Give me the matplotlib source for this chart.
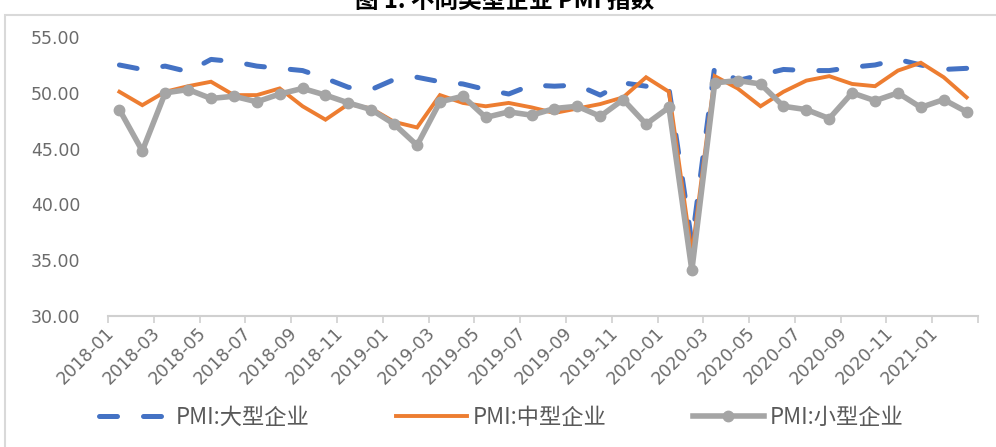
import matplotlib
matplotlib.use("Agg")
import matplotlib.pyplot as plt
import matplotlib.transforms as mtransforms
from matplotlib.patches import Rectangle
import numpy as np
import pandas as pd

plt.rcParams['font.family'] = ['Noto Sans CJK SC', 'DejaVu Sans']

# Monthly PMI by enterprise size, 2018-01 .. 2021-02
months = [str(p) for p in pd.period_range("2018-01", "2021-02", freq="M")]
large = [52.5, 52.1, 52.4, 51.9, 53.0, 52.8, 52.4, 52.2, 52.0, 51.3, 50.5, 50.3,
         51.2, 51.4, 51.0, 50.8, 50.3, 49.9, 50.7, 50.6, 50.7, 49.8, 50.9, 50.6,
         50.4, 36.6, 52.4, 51.1, 51.6, 52.1, 52.0, 52.0, 52.3, 52.5, 53.0, 52.5,
         52.1, 52.2]
medium = [50.1, 48.9, 50.1, 50.6, 51.0, 49.8, 49.8, 50.4, 48.8, 47.6, 49.0, 48.6,
          47.4, 46.9, 49.8, 49.1, 48.8, 49.1, 48.7, 48.2, 48.6, 49.0, 49.6, 51.4,
          50.1, 35.5, 51.5, 50.4, 48.8, 50.1, 51.1, 51.5, 50.8, 50.6, 52.0, 52.7,
          51.4, 49.6]
small = [48.5, 44.8, 50.0, 50.3, 49.5, 49.7, 49.2, 49.9, 50.4, 49.8, 49.1, 48.5,
         47.2, 45.3, 49.2, 49.7, 47.8, 48.3, 48.0, 48.6, 48.8, 47.9, 49.4, 47.2,
         48.7, 34.1, 50.9, 51.1, 50.8, 48.8, 48.5, 47.7, 50.0, 49.3, 50.0, 48.7,
         49.4, 48.3]
series_names = ["PMI:大型企业", "PMI:中型企业", "PMI:小型企业"]
yticks = [30, 35, 40, 45, 50, 55]
title = "图 1: 不同类型企业 PMI 指数"

c_blue, c_orange, c_gray = "#4472C4", "#ED7D31", "#A5A5A5"
tick_color = "#6b6b6b"

fig = plt.figure(figsize=(9.96, 4.47), dpi=100)
ax = fig.add_axes([0.1084, 0.293, 0.8736, 0.624])

x = np.arange(len(months))
ax.plot(x, large, color=c_blue, lw=3.6, ls=(0, (3.6, 5.2)),
        dash_capstyle="round", solid_capstyle="round", label=series_names[0], zorder=3)
ax.plot(x, medium, color=c_orange, lw=2.8, solid_joinstyle="miter",
        label=series_names[1], zorder=4)
ax.plot(x, small, color=c_gray, lw=4, marker="o", ms=7.5, mfc=c_gray, mec=c_gray,
        label=series_names[2], zorder=5)

ax.set_xlim(-0.5, len(months) - 0.5)
ax.set_ylim(30, 55)
ax.set_yticks(yticks)
ax.set_yticklabels([f"{v:.2f}" for v in yticks], color=tick_color, fontsize=12.5,
                   family="DejaVu Sans")
ax.tick_params(axis="y", length=0, pad=20)

ax.set_xticks(x[::2])
ax.set_xticklabels(months[::2], rotation=45, ha="right", va="center",
                   rotation_mode="anchor", color=tick_color, fontsize=12.5,
                   family="DejaVu Sans")
ax.set_xticks(np.arange(-0.5, len(months), 2), minor=True)
ax.tick_params(axis="x", which="major", length=0, pad=10)
ax.tick_params(axis="x", which="minor", length=5, width=1.2, color="#D0D0D0")
shift = mtransforms.ScaledTranslation(-8 / 100, 0, fig.dpi_scale_trans)
for lab in ax.get_xticklabels():
    lab.set_transform(lab.get_transform() + shift)

for s in ("top", "right", "left"):
    ax.spines[s].set_visible(False)
ax.spines["bottom"].set_color("#D0D0D0")
ax.spines["bottom"].set_linewidth(1.5)

# outer chart frame
fig.patches.append(Rectangle((5 / 996, -0.1), 1.2, 1.1 - 15 / 447,
                             transform=fig.transFigure, fill=False,
                             edgecolor="#D9D9D9", lw=1.5))

fig.text(0.507, 0.998, title, ha="center", va="center", fontsize=17, color="black",
         fontweight="bold")

fig.legend(loc="center", bbox_to_anchor=(0.503, 0.067), ncol=3, frameon=False,
           fontsize=16, handlelength=3.2, handletextpad=0.25, columnspacing=3.9,
           labelcolor="#595959")

fig.savefig("out.png", dpi=100)
